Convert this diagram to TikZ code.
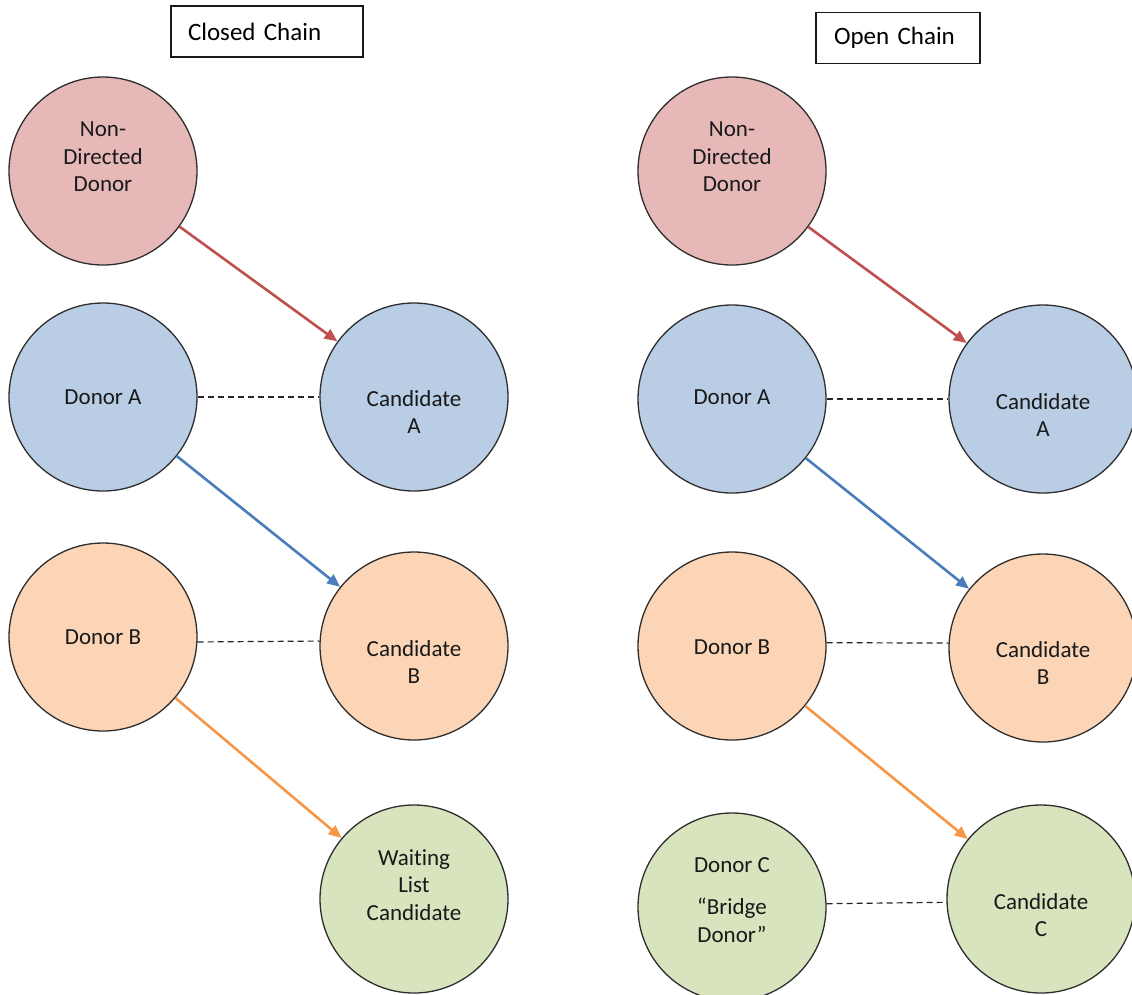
\documentclass[tikz,border=0pt]{standalone}
\usepackage{fontspec}
\setmainfont[Ligatures=NoCommon]{Carlito}
\usetikzlibrary{arrows.meta}
\definecolor{nddfill}{HTML}{E6B9B8}
\definecolor{afill}{HTML}{B9CDE5}
\definecolor{bfill}{HTML}{FBD5B5}
\definecolor{cfill}{HTML}{D7E4BD}
\definecolor{redarrow}{HTML}{C0504D}
\definecolor{bluearrow}{HTML}{4A7EBB}
\definecolor{orangearrow}{HTML}{F79646}
\definecolor{edge}{HTML}{2E2E2E}
\begin{document}
\begin{tikzpicture}[x=1pt,y=-1pt,
  disc/.style={circle, draw=edge, line width=1.3pt, minimum size=188pt, inner sep=0pt},
  lbl/.style={align=center, font=\fontsize{23}{27.5}\selectfont, text=black!90, inner sep=0pt},
  titlebox/.style={draw=black!90, line width=1.2pt, font=\fontsize{25}{30}\selectfont, align=left, minimum height=51pt},
  flow/.style={line width=2.6pt, -{Triangle[length=13pt,width=11pt]}},
  pairline/.style={draw=black!85, line width=1.2pt, dash pattern=on 6pt off 4pt}
]
\useasboundingbox[fill=white] (0,0) rectangle (1132,994);

% titles
\node[titlebox, inner xsep=17pt, text width=158pt] (tclosed) at (267,31.5) {Closed Chain};
\node[titlebox, inner xsep=18pt, text width=128pt] (topen) at (898,38) {Open Chain};

% ---------- Closed chain ----------
\node[disc, fill=nddfill] (lndd) at (103,171) {};
\node[disc, fill=afill] (lda) at (103,397) {};
\node[disc, fill=afill] (lca) at (414,397) {};
\node[disc, fill=bfill] (ldb) at (103,637) {};
\node[disc, fill=bfill] (lcb) at (414,646) {};
\node[disc, fill=cfill] (lwl) at (414,899) {};

\node[lbl] (lnddt) at (103,157) {Non-\\Directed\\Donor};
\node[lbl] (ldat) at (103,397) {Donor A};
\node[lbl] (lcat) at (414,412) {Candidate\\A};
\node[lbl] (ldbt) at (103,637) {Donor B};
\node[lbl] (lcbt) at (414,662) {Candidate\\B};
\node[lbl] (lwlt) at (414,885) {Waiting\\List\\Candidate};

\draw[pairline] (lda.east) -- (lca.west);
\draw[pairline] (ldb.-3) -- (lcb.177.5);

\draw[flow, redarrow] (lndd) -- (lca);
\draw[flow, bluearrow] (lda) -- (lcb);
\draw[flow, orangearrow] (ldb) -- (lwl);

% ---------- Open chain ----------
\node[disc, fill=nddfill] (rndd) at (732,171) {};
\node[disc, fill=afill] (rda) at (732,399) {};
\node[disc, fill=afill] (rca) at (1043,399) {};
\node[disc, fill=bfill] (rdb) at (732,646) {};
\node[disc, fill=bfill] (rcb) at (1043,648) {};
\node[disc, fill=cfill] (rdc) at (732,907) {};
\node[disc, fill=cfill] (rcc) at (1041,899) {};

\node[lbl] (rnddt) at (732,157) {Non-\\Directed\\Donor};
\node[lbl] (rdat) at (732,397) {Donor A};
\node[lbl] (rcat) at (1043,415) {Candidate\\A};
\node[lbl] (rdbt) at (732,647) {Donor B};
\node[lbl] (rcbt) at (1043,663) {Candidate\\B};
\node[lbl] (rdct) at (732,900) {Donor C\\[15pt]“Bridge\\Donor”};
\node[lbl] (rcct) at (1041,915) {Candidate\\C};

\draw[pairline] (rda.east) -- (rca.west);
\draw[pairline] (rdb.2) -- (rcb.177);
\draw[pairline] (rdc.2.4) -- (rcc.182.4);

\draw[flow, redarrow] (rndd) -- (rca);
\draw[flow, bluearrow] (rda) -- (rcb);
\draw[flow, orangearrow] (rdb) -- (rcc);
\end{tikzpicture}
\end{document}
